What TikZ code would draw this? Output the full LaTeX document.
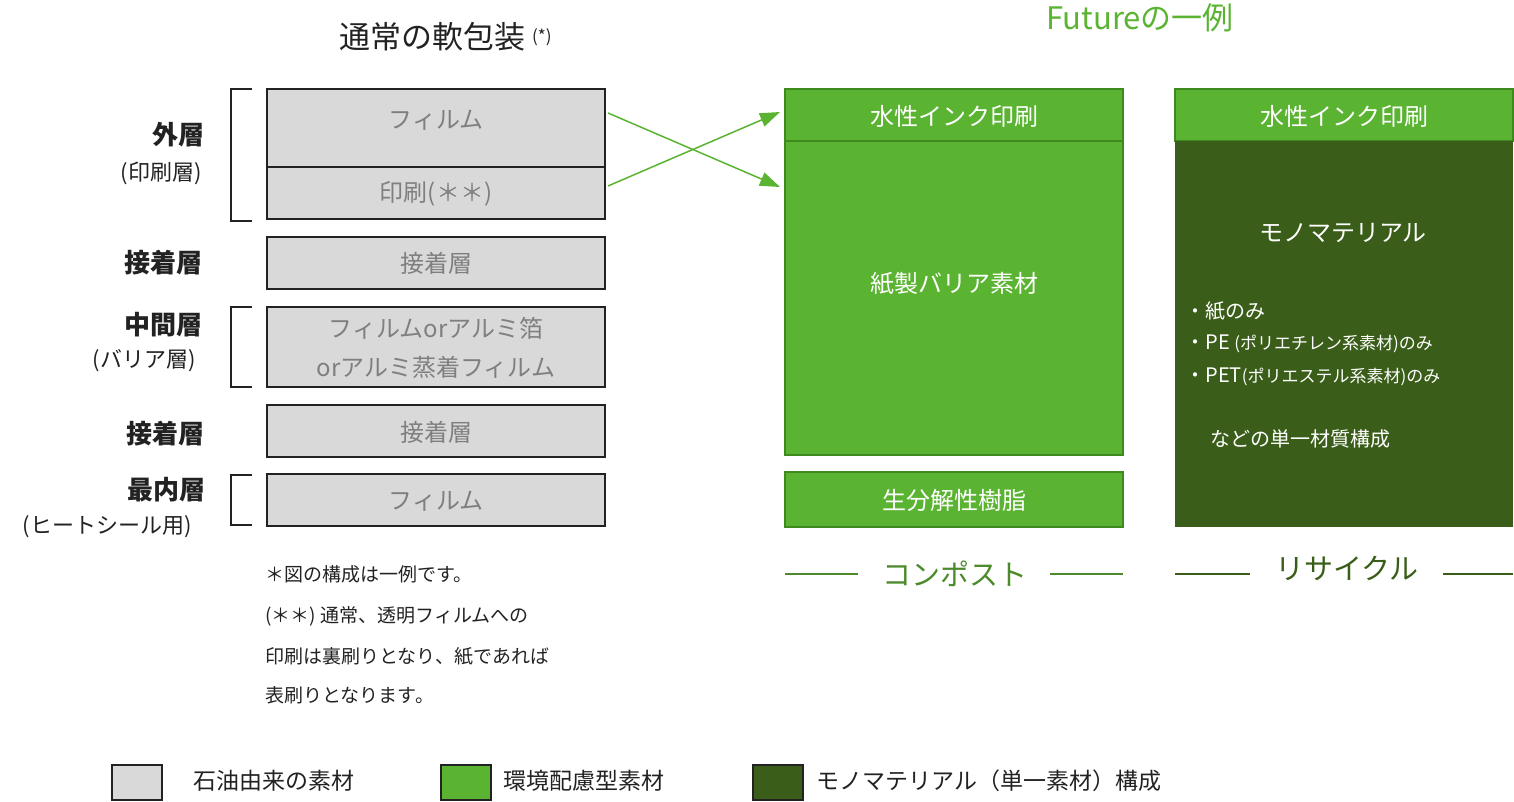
\documentclass[tikz,border=0pt]{standalone}
\usepackage{fontspec}
\setmainfont{Noto Sans CJK JP}
\newfontfamily\boldjp{Noto Sans CJK JP Bold}
\usetikzlibrary{arrows.meta}
\definecolor{gfill}{HTML}{D9D9D9}
\definecolor{gtext}{HTML}{7F7F7F}
\definecolor{lgreen}{HTML}{5AB432}
\definecolor{lgborder}{HTML}{3E8A1E}
\definecolor{dgreen}{HTML}{3A5E19}
\definecolor{cgreen}{HTML}{4C8A2C}
\definecolor{txt}{HTML}{222222}
\tikzset{x=1pt,y=-1pt,
 graybox/.style={draw=txt,line width=1.2pt,fill=gfill},
 gtxt/.style={text=gtext,font=\fontsize{24}{28}\selectfont},
 lbl/.style={text=txt,font=\fontsize{26}{30}\selectfont\bfseries},
 sublbl/.style={text=txt,font=\fontsize{22}{26}\selectfont},
 gbox/.style={draw=lgborder,line width=1.2pt,fill=lgreen},
 wtxt/.style={text=white,font=\fontsize{24}{28}\selectfont},
 note/.style={text=txt,font=\fontsize{19}{22}\selectfont,anchor=west},
 arr/.style={lgreen,line width=1.5pt,-{Triangle[length=20pt,width=14pt]}},
}
\begin{document}
\begin{tikzpicture}
\useasboundingbox (0,0) rectangle (1514,802);
\node[text=txt,font=\fontsize{31}{34}\selectfont] (t1) at (432,37) {通常の軟包装};
\node[text=txt,font=\fontsize{17}{20}\selectfont,anchor=west] (t1s) at (t1.east) {(*)};
\node[text=lgreen,font=\fontsize{31}{34}\selectfont] (t2) at (1140,18) {Futureの一例};
% gray boxes
\path[graybox] (267,89) rectangle (605,167); \node[gtxt] (g1) at (436,120) {フィルム};
\path[graybox] (267,167) rectangle (605,219); \node[gtxt] (g2) at (436,194) {印刷(＊＊)};
\path[graybox] (267,237) rectangle (605,289); \node[gtxt] (g3) at (436,263) {接着層};
\path[graybox] (267,307) rectangle (605,387);
\node[gtxt] (g4) at (436,328) {フィルムorアルミ箔};
\node[gtxt] (g4b) at (436,367) {orアルミ蒸着フィルム};
\path[graybox] (267,405) rectangle (605,457); \node[gtxt] (g5) at (436,432) {接着層};
\path[graybox] (267,474) rectangle (605,526); \node[gtxt] (g6) at (436,501) {フィルム};
% left labels
\node[lbl] (l1) at (178,135) {外層};
\node[sublbl] (l1b) at (161,173) {(印刷層)};
\node[lbl] (l2) at (163,263) {接着層};
\node[lbl] (l3) at (163,325) {中間層};
\node[sublbl] (l3b) at (144,361) {(バリア層)};
\node[lbl] (l4) at (165,434) {接着層};
\node[lbl] (l5) at (166,490) {最内層};
\node[sublbl] (l5b) at (107,527) {(ヒートシール用)};
\draw[txt,line width=1.2pt] (252,89)--(231,89)--(231,221)--(252,221);
\draw[txt,line width=1.2pt] (252,307)--(231,307)--(231,387)--(252,387);
\draw[txt,line width=1.2pt] (252,475)--(231,475)--(231,525)--(252,525);
% green column
\path[gbox] (785,89) rectangle (1123,141); \node[wtxt] (w1) at (954,116) {水性インク印刷};
\path[gbox] (785,141) rectangle (1123,455); \node[wtxt] (w2) at (954,284) {紙製バリア素材};
\path[gbox] (785,472) rectangle (1123,527); \node[wtxt] (w3) at (954,500) {生分解性樹脂};
% dark column
\path[gbox] (1175,89) rectangle (1513,141); \node[wtxt] (d1) at (1344,116) {水性インク印刷};
\path[fill=dgreen] (1175,141) rectangle (1513,527);
\node[wtxt] (d2) at (1343,233) {モノマテリアル};
\node[wtxt,font=\fontsize{20}{24}\selectfont,anchor=west] (d3) at (1182,311) {・紙のみ};
\node[wtxt,font=\fontsize{20}{24}\selectfont,anchor=west] (d4) at (1182,344) {・PE {\fontsize{17}{20}\selectfont (ポリエチレン系素材)のみ}};
\node[wtxt,font=\fontsize{20}{24}\selectfont,anchor=west] (d5) at (1182,377) {・PET{\fontsize{17}{20}\selectfont (ポリエステル系素材)のみ}};
\node[wtxt,font=\fontsize{20}{24}\selectfont,anchor=west] (d6) at (1207,439) {などの単一材質構成};
% arrows
\coordinate (a1s) at (608,113); \coordinate (a1e) at (780,187);
\coordinate (a2s) at (608,186); \coordinate (a2e) at (780,112);
\draw[arr] (a1s)--(a1e);
\draw[arr] (a2s)--(a2e);
% bottom labels
\node[text=cgreen,font=\fontsize{29}{32}\selectfont] (c1) at (955,574) {コンポスト};
\draw[cgreen,line width=1.2pt] (785,574)--(858,574) (1050,574)--(1123,574);
\node[text=dgreen,font=\fontsize{29}{32}\selectfont] (c2) at (1347,568) {リサイクル};
\draw[dgreen,line width=1.5pt] (1175,574)--(1250,574) (1443,574)--(1513,574);
% notes
\node[note] (n1) at (262,574) {＊図の構成は一例です。};
\node[note] (n2) at (262,616) {(＊＊) 通常、透明フィルムへの};
\node[note] (n3) at (262,656) {印刷は裏刷りとなり、紙であれば};
\node[note] (n4) at (262,695) {表刷りとなります。};
% legend
\path[draw=txt,line width=1.2pt,fill=gfill] (112,765) rectangle (162,800);
\node[note,font=\fontsize{23}{26}\selectfont] (k1) at (190,781) {石油由来の素材};
\path[draw=txt,line width=1.2pt,fill=lgreen] (441,765) rectangle (491,800);
\node[note,font=\fontsize{23}{26}\selectfont] (k2) at (500,781) {環境配慮型素材};
\path[draw=txt,line width=1.2pt,fill=dgreen] (753,765) rectangle (803,800);
\node[note,font=\fontsize{23}{26}\selectfont] (k3) at (813,781) {モノマテリアル（単一素材）構成};
\end{tikzpicture}
\end{document}
